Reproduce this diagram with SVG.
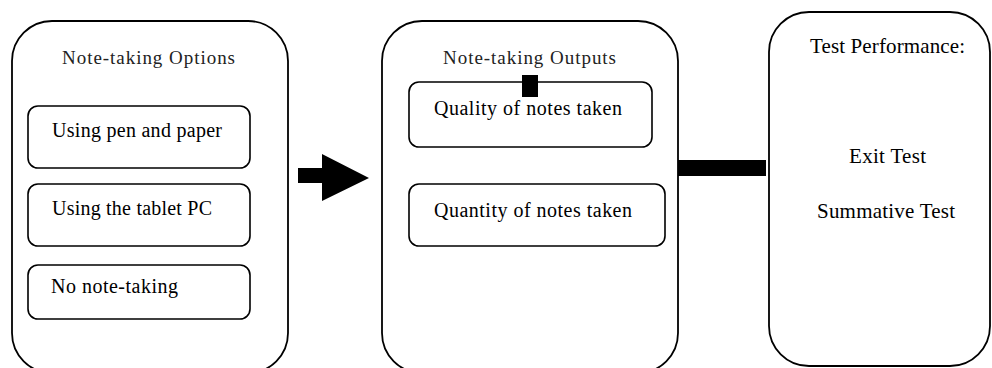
<svg xmlns="http://www.w3.org/2000/svg" width="992" height="368" viewBox="0 0 992 368">
  <style>
    .panel { fill: #ffffff; stroke: #000000; stroke-width: 1.8; }
    .item { fill: #ffffff; stroke: #000000; stroke-width: 1.6; }
    text { font-family: "Liberation Serif", "Times New Roman", serif; fill: #000000; }
    .title { font-size: 19px; fill: #222222; }
    .entry { font-size: 20px; }
    .big { font-size: 21px; }
    .bar { fill: #000000; }
  </style>

  <rect x="0" y="0" width="992" height="368" fill="#ffffff"/>

  <!-- Panel 1: note-taking options -->
  <g id="options">
    <rect class="panel" x="12" y="21" width="276" height="352" rx="40" ry="40"/>
    <text class="title" x="62" y="64" textLength="173" lengthAdjust="spacing">Note-taking Options</text>
    <g id="opt-pen">
      <rect class="item" x="28" y="106" width="222" height="62" rx="10" ry="10"/>
      <text class="entry" x="52" y="137" textLength="170" lengthAdjust="spacing">Using pen and paper</text>
    </g>
    <g id="opt-tablet">
      <rect class="item" x="28" y="184" width="222" height="62" rx="10" ry="10"/>
      <text class="entry" x="52" y="215" textLength="160" lengthAdjust="spacing">Using the tablet PC</text>
    </g>
    <g id="opt-none">
      <rect class="item" x="28" y="265" width="222" height="54" rx="10" ry="10"/>
      <text class="entry" x="51" y="293" textLength="127" lengthAdjust="spacing">No note-taking</text>
    </g>
  </g>

  <!-- Panel 2: note-taking outputs -->
  <g id="outputs">
    <rect class="panel" x="382" y="21" width="296" height="352" rx="40" ry="40"/>
    <text class="title" x="443" y="64" textLength="173" lengthAdjust="spacing">Note-taking Outputs</text>
    <g id="out-quality">
      <rect class="item" x="409" y="82" width="243" height="65" rx="10" ry="10"/>
      <text class="entry" x="434" y="115" textLength="188" lengthAdjust="spacing">Quality of notes taken</text>
    </g>
    <g id="out-quantity">
      <rect class="item" x="409" y="184" width="256" height="62" rx="10" ry="10"/>
      <text class="entry" x="434" y="217" textLength="198" lengthAdjust="spacing">Quantity of notes taken</text>
    </g>
  </g>

  <!-- Panel 3: test performance -->
  <g id="performance">
    <rect class="panel" x="769" y="12" width="221" height="354" rx="40" ry="40"/>
    <text class="big" x="810" y="53" textLength="155" lengthAdjust="spacing">Test Performance:</text>
    <text class="big" x="849" y="163" textLength="77" lengthAdjust="spacing">Exit Test</text>
    <text class="big" x="817" y="218" textLength="138" lengthAdjust="spacing">Summative Test</text>
  </g>

  <!-- Connectors -->
  <g id="connectors">
    <polygon class="bar" points="298,168 322,168 322,154 369,178 322,201 322,183 298,183"/>
    <rect class="bar" x="522" y="75" width="16" height="22"/>
    <rect class="bar" x="678" y="160" width="88" height="16"/>
  </g>
</svg>
